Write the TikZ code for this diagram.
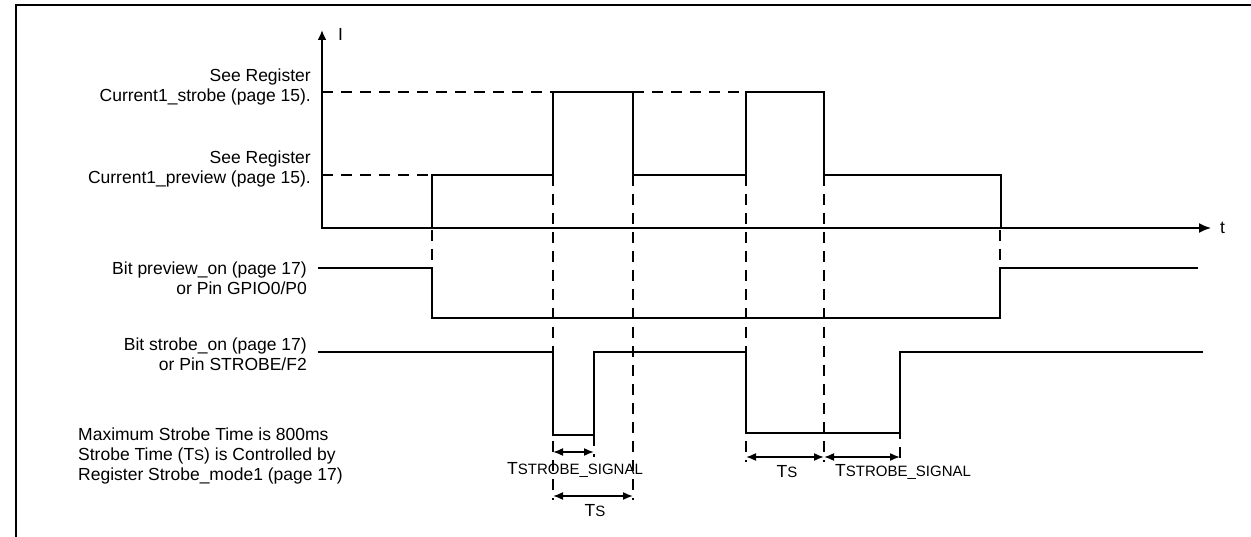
\documentclass[tikz,border=0pt]{standalone}
\usepackage{fontspec}
\setmainfont{Liberation Sans}
\usetikzlibrary{arrows.meta}
\begin{document}
\begin{tikzpicture}[x=1pt,y=-1pt,
  wave/.style={line width=2.8pt, line join=miter, line cap=rect},
  axis/.style={line width=1.6pt},
  guide/.style={line width=1.6pt, dash pattern=on 11pt off 8pt},
  dim/.style={line width=1.6pt, {Latex[length=10pt,width=8pt]}-{Latex[length=10pt,width=8pt]}},
  lbl/.style={font=\fontsize{17.5}{20}\selectfont, inner sep=0pt}
]
\newcommand{\smc}[1]{{\fontsize{15}{17}\selectfont #1}}
\useasboundingbox (0,0) rectangle (1251,537);
% frame
\draw[line width=1.2pt] (16,537) -- (16,5) -- (1251,5);

% axes
\coordinate (O) at (322,228);
\coordinate (Itop) at (322,30);
\coordinate (Tend) at (1211,228);
\draw[line width=2.8pt, -{Latex[length=10pt,width=9pt]}] (O) -- (Itop);
\draw[axis, -{Latex[length=12pt,width=10pt]}] (O) -- (Tend);
\node[lbl, anchor=west] (Ilbl) at (338,34) {I};
\node[lbl, anchor=west] (tlbl) at (1220,228) {t};

% guide lines
\draw[guide] (322,92) -- (553,92);
\draw[guide] (633,92) -- (746,92);
\draw[guide] (322,175) -- (432,175);
\draw[guide] (432,230) -- (432,268);
\draw[guide] (553,175) -- (553,500);
\draw[guide] (633,175) -- (633,500);
\draw[guide] (746,175) -- (746,462);
\draw[guide] (824,175) -- (824,462);
\draw[guide] (900,352) -- (900,462);
\draw[guide] (594,435) -- (594,457);
\draw[guide] (1000,230) -- (1000,268);

% current waveform
\draw[wave] (322,228) -- (432,228) -- (432,175) -- (553,175) -- (553,92) -- (633,92) -- (633,175) -- (746,175) -- (746,92) -- (824,92) -- (824,175) -- (1001,175) -- (1001,228) -- (1190,228);

% preview_on
\draw[wave] (319,268) -- (432,268) -- (432,318) -- (1000,318) -- (1000,268) -- (1197,268);
% strobe_on
\draw[wave] (319,352) -- (553,352) -- (553,435) -- (594,435) -- (594,352) -- (746,352) -- (746,433) -- (900,433) -- (900,352) -- (1202,352);

% dimensions
\coordinate (d1a) at (553,452); \coordinate (d1b) at (594,452);
\coordinate (d2a) at (553,496); \coordinate (d2b) at (633,496);
\coordinate (d3a) at (746,457); \coordinate (d3b) at (824,457);
\coordinate (d4a) at (824,457); \coordinate (d4b) at (900,457);
\draw[dim] (d1a) -- (d1b);
\draw[dim] (d2a) -- (d2b);
\draw[dim] (d3a) -- (d3b);
\draw[dim] (d4a) -- (d4b);
\node[lbl] (ts1lbl) at (575,470) {T\smc{STROBE\_SIGNAL}};
\node[lbl] (ts2lbl) at (595,511) {T\smc{S}};
\node[lbl] (ts3lbl) at (787,472) {T\smc{S}};
\node[lbl, anchor=west] (ts4lbl) at (835,472) {T\smc{STROBE\_SIGNAL}};

% left labels
\node[lbl, anchor=east, align=right] (l1) at (311,87) {See Register\\Current1\_strobe (page 15).};
\node[lbl, anchor=east, align=right] (l2) at (311,169) {See Register\\Current1\_preview (page 15).};
\node[lbl, anchor=east, align=right] (l3) at (307,278) {Bit preview\_on (page 17)\\or Pin GPIO0/P0};
\node[lbl, anchor=east, align=right] (l4) at (307,354) {Bit strobe\_on (page 17)\\or Pin STROBE/F2};
\node[lbl, anchor=west, align=left] (l5) at (78,456) {Maximum Strobe Time is 800ms\\Strobe Time (T\smc{S}) is Controlled by\\Register Strobe\_mode1 (page 17)};
\end{tikzpicture}
\end{document}
